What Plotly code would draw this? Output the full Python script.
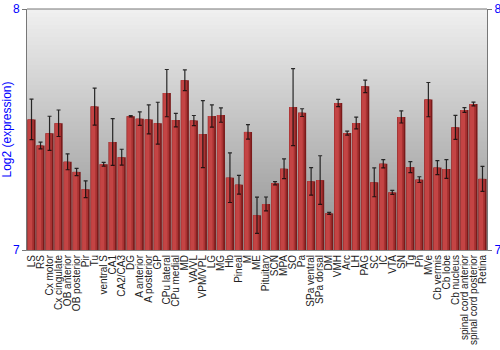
import plotly.graph_objects as go

categories = ["LS", "RS", "Cx motor", "Cx cingulate", "OB anterior", "OB posterior", "Pir", "Tu",
              "ventral S", "CA1", "CA2/CA3", "DG", "A anterior", "A posterior", "GP", "CPu lateral",
              "CPu medial", "MD", "VA/VL", "VPM/VPL", "LG", "MG", "Hb", "Pineal", "M", "ME",
              "Pituitary", "SCN", "MPA", "SO", "Pa", "SPa ventral", "SPa dorsal", "DM", "VMH", "Arc",
              "LH", "PAG", "SC", "IC", "VTA", "SN", "Tg", "Pn", "MVe", "Cb vermis", "Cb lobe",
              "Cb nucleus", "spinal cord anterior", "spinal cord posterior", "Retina"]
values = [7.542, 7.434, 7.484, 7.526, 7.366, 7.324, 7.252, 7.595,
          7.356, 7.448, 7.385, 7.555, 7.545, 7.542, 7.526, 7.651,
          7.539, 7.704, 7.537, 7.481, 7.556, 7.560, 7.300, 7.271, 7.490, 7.144,
          7.191, 7.277, 7.337, 7.593, 7.570, 7.285, 7.290, 7.152, 7.610, 7.485,
          7.527, 7.679, 7.281, 7.358, 7.239, 7.552, 7.344, 7.292, 7.624, 7.342, 7.336,
          7.509, 7.581, 7.606, 7.295]
errors = [0.084, 0.014, 0.071, 0.055, 0.033, 0.015, 0.035, 0.077,
          0.008, 0.097, 0.033, 0.003, 0.028, 0.060, 0.087, 0.098,
          0.028, 0.043, 0.021, 0.139, 0.046, 0.030, 0.103, 0.039, 0.030, 0.075,
          0.029, 0.007, 0.041, 0.160, 0.016, 0.057, 0.101, 0.004, 0.015, 0.008,
          0.024, 0.026, 0.060, 0.017, 0.008, 0.025, 0.023, 0.012, 0.071, 0.029, 0.039,
          0.050, 0.010, 0.008, 0.052]
y_range = [7, 8]
y_ticks = [7, 8]

heights = [v - y_range[0] for v in values]
fig = go.Figure()

# dark base bar (right-hand shading)
fig.add_trace(go.Bar(x=categories, y=heights, base=y_range[0],
                     width=0.9, marker=dict(color="#7a1a1a", line=dict(width=0)),
                     hoverinfo="skip", showlegend=False))
# mid tone
fig.add_trace(go.Bar(x=categories, y=heights, base=y_range[0],
                     width=0.72, offset=-0.45, marker=dict(color="#a83232", line=dict(width=0)),
                     hoverinfo="skip", showlegend=False))
# lighter left part
fig.add_trace(go.Bar(x=categories, y=heights, base=y_range[0],
                     width=0.45, offset=-0.38, marker=dict(color="#c44444", line=dict(width=0)),
                     hoverinfo="skip", showlegend=False))
# error bars
fig.add_trace(go.Scatter(x=categories, y=values, mode="markers",
                         marker=dict(size=0.1, color="rgba(0,0,0,0)"),
                         error_y=dict(type="data", array=errors, color="rgba(10,10,10,0.85)",
                                      thickness=1.2, width=2),
                         showlegend=False))
# right axis helper
fig.add_trace(go.Scatter(x=[categories[0]], y=[y_range[0]], yaxis="y2", mode="markers",
                         marker=dict(size=0.1, color="rgba(0,0,0,0)"), showlegend=False,
                         hoverinfo="skip"))

# gradient background (overlapping rects, no seams)
n = 60
shapes = []
for i in range(n):
    t = i / (n - 1)
    top = (240, 240, 240)
    bot = (145, 145, 145)
    c = tuple(int(top[k] + (bot[k] - top[k]) * t) for k in range(3))
    shapes.append(dict(type="rect", xref="paper", yref="paper", x0=0, x1=1,
                       y0=0, y1=1 - i / n, layer="below",
                       fillcolor="rgb(%d,%d,%d)" % c, line=dict(width=0)))

fig.update_layout(
    width=500, height=350,
    margin=dict(l=27, r=13, t=9, b=100, autoexpand=False),
    paper_bgcolor="white", plot_bgcolor="rgba(0,0,0,0)",
    barmode="overlay", bargap=0.1,
    shapes=shapes,
    font=dict(family="Liberation Sans, Arial, sans-serif", size=11, color="#222222"),
    xaxis=dict(type="category", tickangle=-90, tickfont=dict(size=10, color="#222222"),
               tickmode="array", tickvals=categories, ticktext=categories,
               automargin=False, ticklabelstandoff=0,
               showgrid=False, showline=True, linecolor="#888888", linewidth=1,
               ticks="", ticklen=0, range=[-0.5, len(categories) - 0.5]),
    yaxis=dict(range=y_range, tickvals=y_ticks, ticktext=[str(t) for t in y_ticks],
               automargin=False,
               tickfont=dict(size=12, color="#0000ff"), showgrid=False, zeroline=False,
               showline=True, linecolor="#777777", linewidth=1, ticks="outside",
               ticklen=4, tickcolor="#777777", mirror=False,
               title=dict(text="Log2 (expression)", font=dict(size=12, color="#0000ff"),
                          standoff=2)),
    yaxis2=dict(range=y_range, tickvals=y_ticks, ticktext=[str(t) for t in y_ticks],
                automargin=False,
                overlaying="y", side="right", tickfont=dict(size=12, color="#0000ff"),
                showgrid=False, zeroline=False, showline=True, linecolor="#777777",
                linewidth=1, ticks="outside", ticklen=4, tickcolor="#777777"),
)
# top border
fig.add_shape(type="line", xref="paper", yref="paper", x0=0, x1=1, y0=1, y1=1,
              line=dict(color="#777777", width=1))

fig.write_html("out.html")
